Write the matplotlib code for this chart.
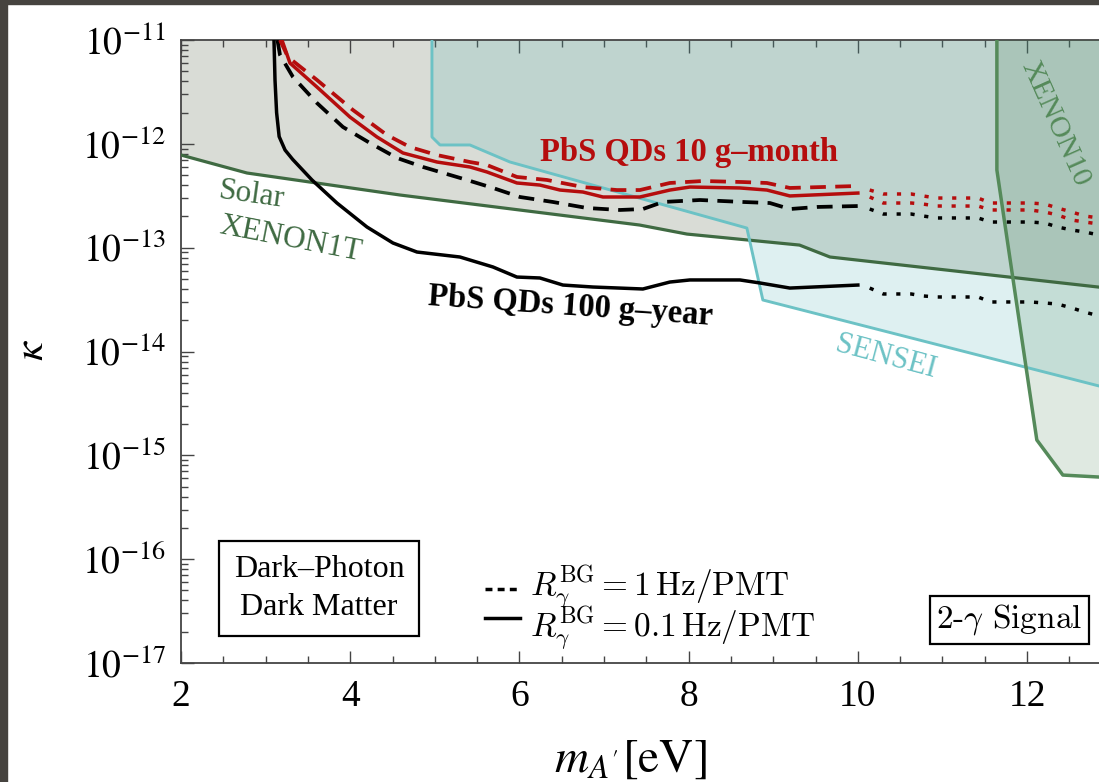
import numpy as np
import matplotlib
matplotlib.use('Agg')
import matplotlib.pyplot as plt
from matplotlib.lines import Line2D
from matplotlib.patches import Rectangle
from matplotlib.legend_handler import HandlerLine2D
from matplotlib.ticker import MultipleLocator, LogLocator, NullFormatter, FuncFormatter

plt.rcParams['font.family'] = ['Liberation Serif', 'DejaVu Serif']
plt.rcParams['mathtext.fontset'] = 'stix'

# ---- data (x in eV, y as log10 kappa) ----
# Solar XENON1T bound
solar_x = [2.0, 2.78, 4.59, 7.42, 7.98, 9.31, 9.67, 12.85]
solar_logk = [-12.108, -12.281, -12.493, -12.782, -12.869, -12.975, -13.09, -13.38]

# SENSEI bound
sensei_x = [4.966, 4.966, 5.061, 5.415, 5.888, 8.688, 8.877, 12.85]
sensei_logk = [-11.0, -11.934, -12.011, -12.011, -12.175, -12.811, -13.504, -14.332]

# XENON10 bound
xenon10_x = [11.643, 11.643, 12.115, 12.423, 12.85]
xenon10_logk = [-11.0, -12.252, -14.852, -15.19, -15.209]

# PbS QDs 100 g-year, 0.1 Hz/PMT (solid)
bs_x = [3.099, 3.111, 3.13, 3.16, 3.23, 3.32, 3.548, 3.843, 4.198, 4.505, 4.789, 5.297,
        5.687, 5.97, 6.242, 6.514, 6.869, 7.459, 7.778, 8.015, 8.606, 8.842, 9.196, 10.0]
bs_logk = [-11.0, -11.385, -11.7, -11.93, -12.06, -12.15, -12.348, -12.57, -12.801,
           -12.955, -13.042, -13.09, -13.186, -13.283, -13.292, -13.36, -13.379, -13.398,
           -13.331, -13.311, -13.311, -13.34, -13.389, -13.36]

# PbS QDs 100 g-year, 1 Hz/PMT (dashed)
bd_x = [3.14, 3.17, 3.323, 3.607, 3.914, 4.233, 4.552, 4.86, 5.38, 5.687, 6.006, 6.396,
        6.798, 7.188, 7.459, 7.696, 8.133, 8.641, 8.96, 9.196, 9.516, 10.0]
bd_logk = [-11.0, -11.144, -11.356, -11.607, -11.838, -11.992, -12.136, -12.223, -12.348,
           -12.425, -12.512, -12.56, -12.618, -12.637, -12.628, -12.56, -12.541, -12.56,
           -12.57, -12.628, -12.608, -12.599]

# PbS QDs 10 g-month, 0.1 Hz/PMT (solid)
rs_x = [3.193, 3.288, 3.607, 3.997, 4.316, 4.623, 5.025, 5.415, 5.616, 5.97, 6.242,
        6.479, 6.75, 6.987, 7.424, 7.778, 8.015, 8.606, 8.925, 9.196, 10.0]
rs_logk = [-11.0, -11.222, -11.453, -11.742, -11.934, -12.088, -12.175, -12.223, -12.271,
           -12.377, -12.397, -12.445, -12.464, -12.512, -12.512, -12.445, -12.416, -12.425,
           -12.445, -12.502, -12.474]

# PbS QDs 10 g-month, 1 Hz/PMT (dashed)
rd_x = [3.17, 3.264, 3.607, 4.032, 4.434, 4.706, 5.025, 5.415, 5.616, 5.97, 6.325,
        6.75, 7.152, 7.424, 7.778, 8.168, 8.641, 8.925, 9.196, 10.0]
rd_logk = [-11.0, -11.164, -11.385, -11.674, -11.915, -12.031, -12.108, -12.175, -12.204,
           -12.319, -12.348, -12.416, -12.445, -12.445, -12.377, -12.358, -12.368, -12.377,
           -12.425, -12.406]

# dotted extrapolations above 10 eV
ext_x = [10.14, 10.30, 10.63, 10.77, 10.93, 11.42, 11.57, 12.04, 12.21, 12.36,
         12.53, 12.68, 12.85]
bs_ext_logk = [-13.389, -13.446, -13.446, -13.465, -13.475, -13.475, -13.523,
               -13.523, -13.533, -13.543, -13.581, -13.62, -13.658]
bd_ext_logk = [-12.628, -12.676, -12.676, -12.695, -12.714, -12.714, -12.753,
               -12.753, -12.763, -12.801, -12.83, -12.849, -12.878]
rs_ext_logk = [-12.512, -12.57, -12.57, -12.58, -12.599, -12.599, -12.637,
               -12.637, -12.657, -12.685, -12.734, -12.753, -12.772]
rd_ext_logk = [-12.445, -12.483, -12.483, -12.502, -12.522, -12.522, -12.57,
               -12.57, -12.58, -12.618, -12.657, -12.695, -12.714]

xmin, xmax = 2.0, 12.85
ymin, ymax = 1e-17, 1e-11

def k(v):
    return 10.0 ** np.array(v)


class ShiftedLine(HandlerLine2D):
    # legend handle drawn a bit above/below the text centre
    def __init__(self, dy, **kw):
        super().__init__(**kw)
        self.dy = dy

    def create_artists(self, legend, orig_handle, xdescent, ydescent, width, height,
                       fontsize, trans):
        return super().create_artists(legend, orig_handle, xdescent, ydescent + 2 * self.dy,
                                      width, height, fontsize, trans)


red = '#b50d0d'
green_dark = '#3f6a42'
green = '#558a5a'
teal = '#6cc2c5'
lw = 2.5
dash = (0, (4.2, 2.5))
dot = (0, (1.2, 2.8))

fig = plt.figure(figsize=(10.99, 7.82), dpi=100)
ax = fig.add_axes([181 / 1099, 119 / 782, 918 / 1099, 623 / 782])

# dark frame of the screenshot
fig.patches.append(Rectangle((0, 1 - 4 / 782), 1, 4 / 782, transform=fig.transFigure,
                             color='#46433f', zorder=10))
fig.patches.append(Rectangle((0, 0), 7 / 1099, 1, transform=fig.transFigure,
                             color='#46433f', zorder=10))

# excluded regions
ax.fill_between(solar_x, k(solar_logk), ymax, color='#d9dcd6', lw=0, zorder=1)
ax.fill(sensei_x + [xmax], list(k(sensei_logk)) + [ymax], color='#4ab0b2', alpha=0.18,
        lw=0, zorder=2)
ax.fill(xenon10_x + [xmax], list(k(xenon10_logk)) + [ymax], color='#3d7a4a', alpha=0.16,
        lw=0, zorder=3)

ax.plot(solar_x, k(solar_logk), color=green_dark, lw=2.3, zorder=4)
ax.plot(sensei_x, k(sensei_logk), color=teal, lw=2.1, zorder=4)
ax.plot(xenon10_x, k(xenon10_logk), color=green, lw=2.5, zorder=4)

# projections
ax.plot(bs_x, k(bs_logk), color='black', lw=lw, zorder=6)
ax.plot(bd_x, k(bd_logk), color='black', lw=2.7, ls=dash, zorder=6)
ax.plot(rs_x, k(rs_logk), color=red, lw=lw, zorder=7)
ax.plot(rd_x, k(rd_logk), color=red, lw=2.7, ls=dash, zorder=7)

ax.plot(ext_x, k(bs_ext_logk), color='black', lw=lw, ls=dot, zorder=6)
ax.plot(ext_x, k(bd_ext_logk), color='black', lw=lw, ls=dot, zorder=6)
ax.plot(ext_x, k(rs_ext_logk), color=red, lw=lw, ls=dot, zorder=7)
ax.plot(ext_x, k(rd_ext_logk), color=red, lw=lw, ls=dot, zorder=7)

# labels on the plot
ax.text(8.0, 8.3e-13, 'PbS QDs 10 g\u2013month', color=red, fontsize=23.5,
        fontweight='bold', ha='center', va='center', zorder=8)
ax.text(6.6, 2.7e-14, 'PbS QDs 100 g\u2013year', color='black', fontsize=23.5,
        fontweight='bold', ha='center', va='center', rotation=-4, zorder=8)
ax.text(2.84, 3.2e-13, 'Solar', color=green_dark, fontsize=22.5, ha='center',
        va='center', rotation=-8, zorder=8)
ax.text(3.30, 1.2e-13, 'XENON1T', color=green_dark, fontsize=22.5, ha='center',
        va='center', rotation=-11, zorder=8)
ax.text(10.33, 8.85e-15, 'SENSEI', color=teal, fontsize=22, ha='center',
        va='center', rotation=-15, zorder=8)
ax.text(12.33, 1.58e-12, 'XENON10', color=green, fontsize=21.5, ha='center',
        va='center', rotation=-66, zorder=8)

ax.text(3.63, 5.2e-17, 'Dark\u2013Photon\nDark Matter', fontsize=23, ha='center',
        va='center', multialignment='center', linespacing=1.4, zorder=9,
        bbox=dict(boxstyle='square,pad=0.45', fc='white', ec='black', lw=1.6))
ax.text(11.79, 2.6e-17, '2-$\\gamma$ Signal', fontsize=24, ha='center', va='center',
        family='cmr10', math_fontfamily='cm', zorder=9,
        bbox=dict(boxstyle='square,pad=0.2', fc='white', ec='black', lw=1.6))

h_dash = Line2D([], [], color='black', lw=lw, ls=(0, (2.0, 1.5)))
h_solid = Line2D([], [], color='black', lw=lw)
labels = [r'$R_{\gamma}^{\mathrm{BG}} = 1\,\mathrm{Hz/PMT}$',
          r'$R_{\gamma}^{\mathrm{BG}} = 0.1\,\mathrm{Hz/PMT}$']
leg = ax.legend([h_dash, h_solid], labels, loc='upper left',
                bbox_to_anchor=(0.331, 0.16), frameon=False, fontsize=24,
                handlelength=1.05, handletextpad=0.3, labelspacing=-0.2,
                borderpad=0, borderaxespad=0,
                handler_map={h_dash: ShiftedLine(4), h_solid: ShiftedLine(-5)})
for t in leg.get_texts():
    t.set_math_fontfamily('cm')

# axes styling
ax.set_yscale('log')
ax.set_xlim(xmin, xmax)
ax.set_ylim(ymin, ymax)
ax.xaxis.set_major_locator(MultipleLocator(2))
ax.xaxis.set_minor_locator(MultipleLocator(0.5))
ax.yaxis.set_major_locator(LogLocator(base=10, numticks=20))
ax.yaxis.set_minor_locator(LogLocator(base=10, subs=np.arange(2, 10), numticks=20))
ax.yaxis.set_minor_formatter(NullFormatter())
ax.yaxis.set_major_formatter(FuncFormatter(lambda v, p: r'$10^{%d}$' % round(np.log10(v))))

ax.tick_params(which='both', direction='in', top=True, right=False, color='#444444',
               width=1.0, labelsize=27)
ax.tick_params(which='major', length=9)
ax.tick_params(which='minor', length=5)
ax.tick_params(axis='x', pad=12)
ax.tick_params(axis='y', pad=11)

for side in ['left', 'bottom', 'top']:
    ax.spines[side].set_color('#444444')
    ax.spines[side].set_linewidth(1.3)
ax.spines['right'].set_visible(False)

ax.set_xlabel(r'$m_{A^{\prime}}[\mathrm{eV}]$', fontsize=34)
ax.xaxis.set_label_coords(0.489, -0.122)
ax.set_ylabel(r'$\kappa$', fontsize=31)
ax.yaxis.set_label_coords(-0.140, 0.502)

fig.savefig('out.png', dpi=100)
